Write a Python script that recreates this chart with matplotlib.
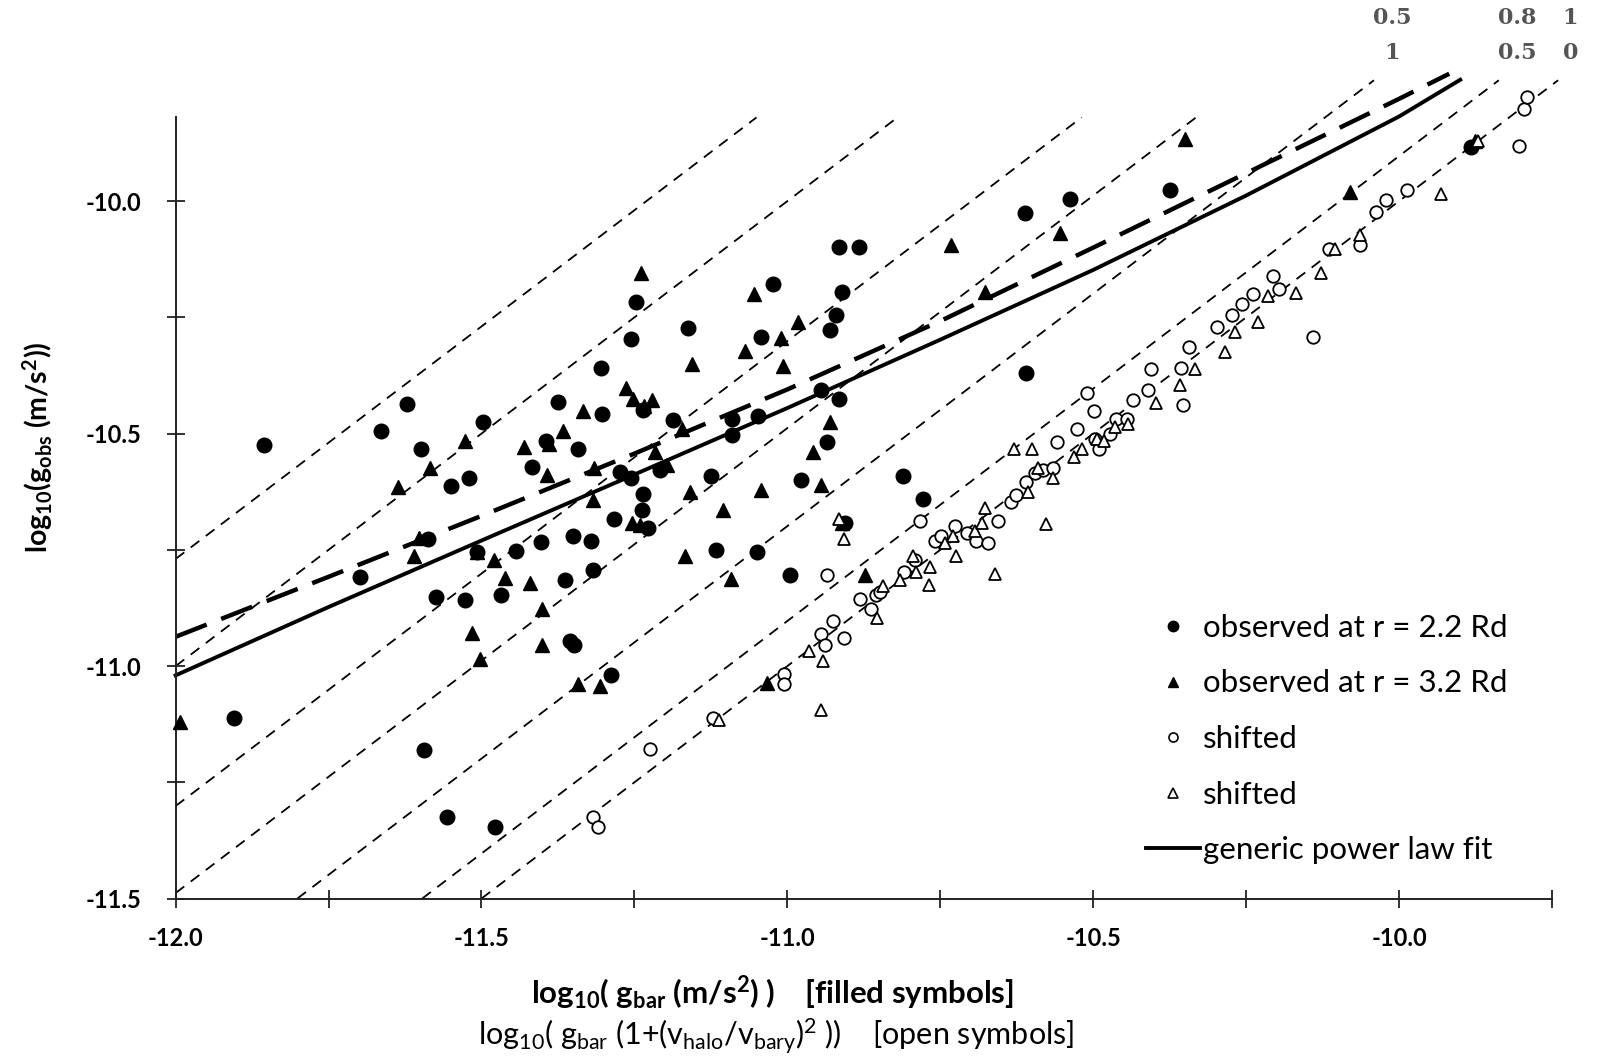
import numpy as np
import matplotlib.pyplot as plt
from matplotlib.lines import Line2D

plt.rcParams['font.family'] = ['Lato', 'DejaVu Sans']
plt.rcParams['mathtext.fontset'] = 'custom'
plt.rcParams['mathtext.rm'] = 'Lato'
plt.rcParams['mathtext.it'] = 'Lato:italic'
plt.rcParams['mathtext.bf'] = 'Lato:bold'

# observed at r = 2.2 Rd (filled circles)
obs22_x = [-11.856, -11.905, -11.664, -11.622, -11.599, -11.587, -11.574, -11.699, -11.550, -11.520,
           -11.498, -11.507, -11.527, -11.468, -11.443, -11.403, -11.395, -11.418, -11.375, -11.363,
           -11.355, -11.348, -11.343, -11.351, -11.321, -11.318, -11.289, -11.304, -11.303, -11.283,
           -11.273, -11.256, -11.247, -11.236, -11.236, -11.237, -11.227, -11.256, -11.209, -11.187,
           -11.162, -11.117, -11.125, -11.090, -11.090, -11.050, -11.048, -11.043, -11.023, -10.995,
           -10.978, -10.945, -10.936, -10.930, -10.920, -10.916, -10.910, -10.883, -10.915, -10.906,
           -10.811, -10.778, -10.612, -10.610, -10.538, -10.375, -9.883, -11.594, -11.557, -11.478]
obs22_y = [-10.525, -11.111, -10.494, -10.437, -10.534, -10.727, -10.852, -10.808, -10.613, -10.595,
           -10.476, -10.755, -10.857, -10.848, -10.753, -10.733, -10.516, -10.571, -10.433, -10.815,
           -10.946, -10.955, -10.534, -10.720, -10.731, -10.793, -11.019, -10.358, -10.457, -10.683,
           -10.582, -10.296, -10.217, -10.450, -10.630, -10.665, -10.703, -10.595, -10.578, -10.470,
           -10.272, -10.751, -10.591, -10.468, -10.503, -10.755, -10.463, -10.292, -10.178, -10.804,
           -10.599, -10.406, -10.518, -10.277, -10.246, -10.099, -10.195, -10.099, -10.426, -10.692,
           -10.591, -10.641, -10.026, -10.369, -9.996, -9.976, -9.884, -11.181, -11.324, -11.346]

# observed at r = 3.2 Rd (filled triangles)
obs32_x = [-11.993, -11.637, -11.610, -11.584, -11.602, -11.527, -11.508, -11.515, -11.503, -11.480,
           -11.462, -11.431, -11.420, -11.401, -11.401, -11.393, -11.366, -11.390, -11.343, -11.334,
           -11.316, -11.318, -11.306, -11.264, -11.253, -11.239, -11.234, -11.221, -11.216, -11.254,
           -11.241, -11.197, -11.172, -11.156, -11.159, -11.167, -11.105, -11.092, -11.070, -11.055,
           -11.043, -11.033, -11.010, -11.007, -10.983, -10.958, -10.945, -10.930, -10.910, -10.873,
           -10.732, -10.677, -10.554, -10.350, -10.080, -9.876]
obs32_y = [-11.120, -10.615, -10.764, -10.573, -10.725, -10.516, -10.755, -10.929, -10.984, -10.771,
           -10.810, -10.529, -10.821, -10.955, -10.878, -10.588, -10.494, -10.523, -11.039, -10.452,
           -10.575, -10.643, -11.043, -10.402, -10.426, -10.154, -10.441, -10.428, -10.540, -10.692,
           -10.696, -10.567, -10.490, -10.351, -10.626, -10.764, -10.665, -10.812, -10.323, -10.200,
           -10.621, -11.036, -10.294, -10.354, -10.261, -10.540, -10.610, -10.474, -10.692, -10.804,
           -10.094, -10.195, -10.068, -9.866, -9.980, -9.870]

# shifted (open circles)
sh22_x = [-11.318, -11.310, -11.224, -11.122, -11.005, -11.005, -10.945, -10.936, -10.938, -10.925,
          -10.908, -10.881, -10.863, -10.855, -10.848, -10.809, -10.791, -10.783, -10.758, -10.749,
          -10.726, -10.707, -10.692, -10.672, -10.656, -10.635, -10.627, -10.610, -10.595, -10.582,
          -10.565, -10.559, -10.527, -10.510, -10.498, -10.497, -10.490, -10.473, -10.462, -10.445,
          -10.435, -10.411, -10.406, -10.356, -10.353, -10.343, -10.298, -10.273, -10.256, -10.239,
          -10.206, -10.197, -10.140, -10.114, -10.064, -10.038, -10.021, -9.987, -9.804, -9.796, -9.791]
sh22_y = [-11.324, -11.346, -11.179, -11.111, -11.017, -11.039, -10.931, -10.804, -10.955, -10.903,
          -10.940, -10.856, -10.878, -10.848, -10.841, -10.797, -10.771, -10.687, -10.731, -10.720,
          -10.698, -10.714, -10.731, -10.736, -10.687, -10.648, -10.632, -10.604, -10.584, -10.578,
          -10.573, -10.518, -10.490, -10.413, -10.452, -10.512, -10.534, -10.501, -10.468, -10.468,
          -10.428, -10.406, -10.362, -10.358, -10.439, -10.314, -10.270, -10.244, -10.222, -10.200,
          -10.160, -10.189, -10.292, -10.103, -10.094, -10.024, -9.998, -9.976, -9.881, -9.802, -9.776]

# shifted (open triangles)
sh32_x = [-11.112, -10.965, -10.945, -10.941, -10.915, -10.908, -10.853, -10.843, -10.816, -10.794,
          -10.789, -10.769, -10.766, -10.742, -10.729, -10.724, -10.694, -10.682, -10.677, -10.661,
          -10.630, -10.607, -10.600, -10.590, -10.577, -10.565, -10.532, -10.518, -10.493, -10.482,
          -10.465, -10.443, -10.398, -10.358, -10.334, -10.284, -10.268, -10.231, -10.214, -10.169,
          -10.127, -10.105, -10.064, -9.931, -9.871]
sh32_y = [-11.115, -10.968, -11.094, -10.990, -10.683, -10.727, -10.896, -10.828, -10.815, -10.764,
          -10.797, -10.826, -10.786, -10.736, -10.720, -10.764, -10.709, -10.692, -10.661, -10.801,
          -10.534, -10.626, -10.534, -10.573, -10.694, -10.595, -10.551, -10.534, -10.512, -10.516,
          -10.485, -10.479, -10.435, -10.395, -10.360, -10.325, -10.281, -10.261, -10.204, -10.198,
          -10.154, -10.103, -10.072, -9.985, -9.870]

# generic power law fit (solid) and second fit (long dashes)
fit_x = [-12.0, -11.75, -11.5, -11.25, -11.0, -10.75, -10.5, -10.25, -10.0, -9.9]
fit_y = [-11.020, -10.873, -10.730, -10.588, -10.445, -10.298, -10.148, -9.988, -9.818, -9.739]
fit2_x = [-12.0, -11.75, -11.5, -11.25, -11.0, -10.75, -10.5, -10.25, -10.0, -9.918]
fit2_y = [-10.937, -10.808, -10.677, -10.543, -10.405, -10.258, -10.100, -9.940, -9.780, -9.726]

# guide lines g_obs = g_bar (1 + (v_halo/v_bary)^2)
ratios = [0, 0.5, 1, 1.5, 2, 3, 4]
line_top = [-9.74, -9.74, -9.74, -9.82, -9.82, -9.82, -9.82]
frac_labels = {0: '1', 0.5: '0.8', 1: '0.5'}

xmin, xmax = -12.0, -9.75
ymin, ymax = -11.5, -9.82

fig = plt.figure(figsize=(16.01, 10.56), dpi=100)
ax = fig.add_axes([0.1097, 0.1491, 0.8597, 0.7397])

for r, ytop in zip(ratios, line_top):
    off = np.log10(1 + r ** 2)
    x0 = max(xmin, ymin - off)
    x1 = ytop - off
    ax.plot([x0, x1], [x0 + off, x1 + off], color='black', lw=1.3,
            dashes=(6, 4.5), clip_on=False, zorder=1)
    if r in frac_labels:
        lx = x1 + 0.03 if r != 0 else x1 + 0.02
        ax.text(lx, -9.607, frac_labels[r], ha='center', va='center',
                fontsize=16, fontweight='bold', family='DejaVu Serif', color='#555555',
                clip_on=False)
        ax.text(lx, -9.682, '{:g}'.format(r), ha='center', va='center',
                fontsize=16, fontweight='bold', family='DejaVu Serif', color='#555555',
                clip_on=False)

ax.plot(fit2_x, fit2_y, color='black', lw=3.2, dashes=(7.5, 3.5), clip_on=False, zorder=2)
ax.plot(fit_x, fit_y, color='black', lw=2.8, clip_on=False, zorder=2)

ax.plot(obs22_x, obs22_y, 'o', color='black', ms=10.5, zorder=3, clip_on=False)
ax.plot(obs32_x, obs32_y, '^', color='black', ms=10.5, zorder=3, clip_on=False)
ax.plot(sh22_x, sh22_y, 'o', mfc='white', mec='black', mew=1.3, ms=9, zorder=3, clip_on=False)
ax.plot(sh32_x, sh32_y, '^', mfc='white', mec='black', mew=1.3, ms=9, zorder=3, clip_on=False)

ax.set_xlim(xmin, xmax)
ax.set_ylim(ymin, ymax)
for s in ['top', 'right']:
    ax.spines[s].set_visible(False)
for s in ['left', 'bottom']:
    ax.spines[s].set_linewidth(1.4)
    ax.spines[s].set_color('#222222')

ax.set_xticks([-12.0, -11.5, -11.0, -10.5, -10.0])
ax.set_xticks([-11.75, -11.25, -10.75, -10.25, -9.75], minor=True)
ax.set_yticks([-11.5, -11.0, -10.5, -10.0])
ax.set_yticks([-11.25, -10.75, -10.25], minor=True)
ax.xaxis.set_major_formatter(plt.FormatStrFormatter('%.1f'))
ax.yaxis.set_major_formatter(plt.FormatStrFormatter('%.1f'))
ax.tick_params(which='both', direction='inout', length=13, width=1.3, color='#222222')
ax.tick_params(axis='x', pad=14)
ax.tick_params(axis='y', pad=18)
for lab in ax.get_xticklabels() + ax.get_yticklabels():
    lab.set_fontsize(17)
    lab.set_fontweight('bold')

fig.text(38 / 1601, 1 - 447 / 1056, r'log$_{\mathbf{10}}$(g$_{\mathbf{obs}}$ (m/s$^{\mathbf{2}}$))',
         rotation=90, ha='center', va='center', fontsize=20.5, fontweight='bold')
fig.text(531 / 1601, 1 - 993 / 1056,
         r'log$_{\mathbf{10}}$( g$_{\mathbf{bar}}$ (m/s$^{\mathbf{2}}$) )    [filled symbols]',
         ha='left', va='center', fontsize=22.5, fontweight='bold')
fig.text(478 / 1601, 1 - 1036 / 1056,
         r'log$_{10}$( g$_{\mathrm{bar}}$ (1+(v$_{\mathrm{halo}}$/v$_{\mathrm{bary}}$)$^{2}$ ))    [open symbols]',
         ha='left', va='center', fontsize=22)

handles = [
    Line2D([], [], ls='none', marker='o', color='black', ms=7.5),
    Line2D([], [], ls='none', marker='^', color='black', ms=7.5),
    Line2D([], [], ls='none', marker='o', mfc='white', mec='black', mew=1.2, ms=6.5),
    Line2D([], [], ls='none', marker='^', mfc='white', mec='black', mew=1.2, ms=6.5),
    Line2D([], [], color='black', lw=2.8),
]
labels = ['observed at r = 2.2 Rd', 'observed at r = 3.2 Rd', 'shifted', 'shifted',
          'generic power law fit']
ax.legend(handles, labels, loc='center left', bbox_to_anchor=(1146 / 1601, 1 - 739 / 1056),
          bbox_transform=fig.transFigure, frameon=False, fontsize=22.5, handlelength=1.73,
          handletextpad=0.1, labelspacing=0.88, borderpad=0, borderaxespad=0)

fig.savefig('out.png', dpi=100)
